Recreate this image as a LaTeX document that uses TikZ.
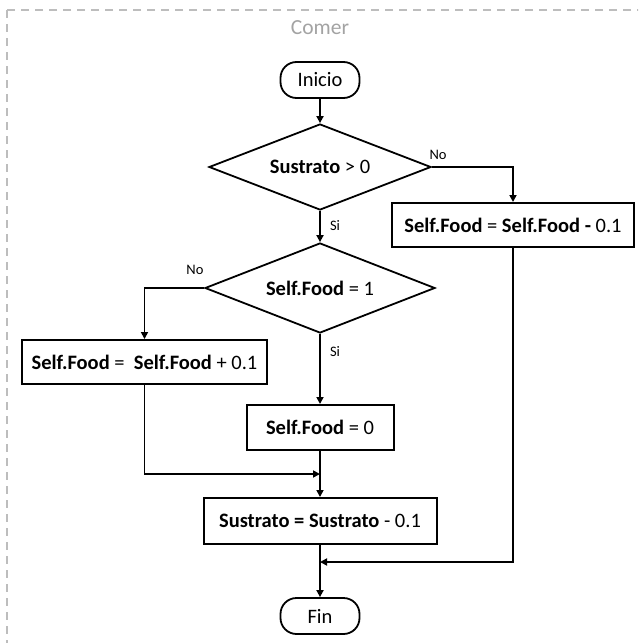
\documentclass[tikz,border=0pt]{standalone}
\usepackage{fontspec}
\setmainfont{Carlito}
\usetikzlibrary{shapes.geometric,arrows.meta}
\definecolor{framegray}{HTML}{BDBDBD}
\definecolor{titlegray}{HTML}{A3A3A3}
\begin{document}
\begin{tikzpicture}[x=1pt,y=-1pt,
  every node/.style={font=\fontsize{20.5}{24}\selectfont, inner sep=0pt},
  procbox/.style={draw, rectangle, line width=2pt},
  decision/.style={draw, diamond, aspect=2.6, line width=1.8pt},
  terminal/.style={draw, rounded corners=16pt, line width=1.8pt, minimum width=79pt, minimum height=36pt},
  flow/.style={line width=1.7pt, -{Triangle[length=7pt,width=7pt]}},
  branch/.style={font=\fontsize{14.5}{17}\selectfont}]
  \useasboundingbox (0,0) rectangle (638,643);
  \clip (0,0) rectangle (638,643);

  % dashed lane frame with its title
  \draw[framegray, line width=1.4pt, dash pattern=on 8pt off 6pt] (7,10) rectangle (700,700);
  \node[font=\fontsize{21.5}{26}\selectfont, text=titlegray] (title) at (320,28) {Comer};

  % flowchart nodes
  \node[terminal] (start) at (320,80) {Inicio};
  \node[decision, minimum width=222pt, minimum height=86pt] (d1) at (320,167) {\textbf{Sustrato} > 0};
  \node[procbox, minimum width=242pt, minimum height=44pt] (b2) at (513,225) {\textbf{Self.Food} = \textbf{Self.Food -} 0.1};
  \node[decision, minimum width=230pt, minimum height=90pt] (d2) at (320,288) {\textbf{Self.Food} = 1};
  \node[procbox, minimum width=245pt, minimum height=44pt] (b3) at (144.5,362) {\textbf{Self.Food} =\ \ \textbf{Self.Food} + 0.1};
  \node[procbox, minimum width=147pt, minimum height=45pt] (b4) at (320,427.5) {\textbf{Self.Food} = 0};
  \node[procbox, minimum width=233pt, minimum height=46pt] (b5) at (320,521) {\textbf{Sustrato = Sustrato} - 0.1};
  \node[terminal] (end) at (320,616) {Fin};

  % junction points where branches rejoin
  \coordinate (j1) at (320,474);
  \coordinate (j2) at (320,562);

  % connectors
  \draw[flow] (start) -- (d1);
  \draw[flow] (d1.east) -| (b2.north);
  \draw[flow] (d1) -- (d2);
  \draw[flow] (d2.west) -| (b3.north);
  \draw[flow] (d2) -- (b4);
  \draw[flow] (b4) -- (b5);
  \draw[flow] (b3.south) |- (j1);
  \draw[flow] (b5) -- (end);
  \draw[flow] (b2.south) |- (j2);

  % branch labels
  \node[branch] (no1) at (438,155) {No};
  \node[branch] (si1) at (335,226) {Si};
  \node[branch] (no2) at (195,270) {No};
  \node[branch] (si2) at (335,352) {Si};
\end{tikzpicture}
\end{document}
